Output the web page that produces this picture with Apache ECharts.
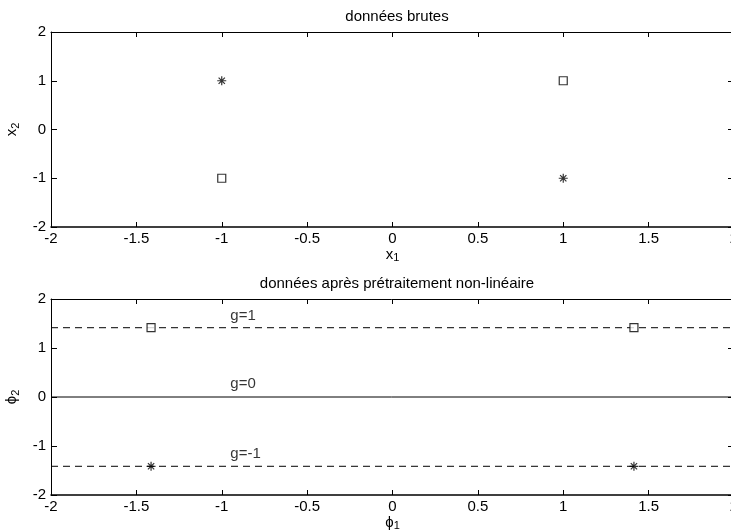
<!DOCTYPE html>
<html>
<head>
<meta charset="utf-8">
<script src="https://cdn.jsdelivr.net/npm/echarts@6/dist/echarts.min.js"></script>
<style>
  html, body { margin: 0; padding: 0; background: #fff; }
  #main { width: 731px; height: 531px; }
</style>
</head>
<body>
<div id="main"></div>
<script>
// valeurs
let axisMin = -2
let axisMax = 2
let xStep = 0.5
let yStep = 1
let r2 = 1.414

// données brutes (XOR)
let rawStars = [[-1, 1], [1, -1]]
let rawSquares = [[1, 1], [-1, -1]]

// après prétraitement
let phiSquares = [[-r2, r2], [r2, r2]]
let phiStars = [[-r2, -r2], [r2, -r2]]
let gLevels = [r2, 0, -r2]
let gDashed = [true, false, true]
let gLabels = ['g=1', 'g=0', 'g=-1']
let gLabelPos = [[-0.95, 1.65], [-0.95, 0.26], [-0.95, -1.17]]

let titles = ['données brutes', 'données après prétraitement non-linéaire']

let font = 'Liberation Sans, Arial, sans-serif'
let fs = 15
let starPath = 'path://M0,-10L0,10M-10,0L10,0M-7,-7L7,7M-7,7L7,-7'

let chart = echarts.init(document.getElementById('main'))

function mainX(gi, name) {
    return {
        type: 'value', gridIndex: gi, min: axisMin, max: axisMax, interval: xStep,
        position: 'bottom',
        axisLine: { onZero: false, lineStyle: { color: '#000', width: 1.5 } },
        axisTick: { inside: true, length: 5, lineStyle: { color: '#000' } },
        axisLabel: { color: '#000', fontSize: fs, fontFamily: font, margin: 4,
            formatter: function (v) { return String(v) } },
        splitLine: { show: false },
        name: name, nameLocation: 'middle', nameGap: 17,
        nameTextStyle: { color: '#000', fontSize: fs, fontFamily: font,
            rich: { s: { fontSize: 11, fontFamily: font, padding: [8, 0, 0, 0] } } }
    }
}
function topX(gi) {
    return {
        type: 'value', gridIndex: gi, min: axisMin, max: axisMax, interval: xStep,
        position: 'top',
        axisLine: { onZero: false, lineStyle: { color: '#000', width: 1 } },
        axisTick: { inside: true, length: 5, lineStyle: { color: '#000' } },
        axisLabel: { show: false }, splitLine: { show: false }
    }
}
function mainY(gi, name) {
    return {
        type: 'value', gridIndex: gi, min: axisMin, max: axisMax, interval: yStep,
        position: 'left',
        axisLine: { onZero: false, lineStyle: { color: '#000', width: 1 } },
        axisTick: { inside: true, length: 6, lineStyle: { color: '#000' } },
        axisLabel: { color: '#000', fontSize: fs, fontFamily: font, margin: 5 },
        splitLine: { show: false },
        name: name, nameLocation: 'middle', nameGap: 28, nameRotate: 90,
        nameTextStyle: { color: '#000', fontSize: fs, fontFamily: font,
            rich: { s: { fontSize: 11, fontFamily: font, padding: [8, 0, 0, 0] } } }
    }
}
function rightY(gi) {
    return {
        type: 'value', gridIndex: gi, min: axisMin, max: axisMax, interval: yStep,
        position: 'right',
        axisLine: { onZero: false, lineStyle: { color: '#000', width: 1 } },
        axisTick: { inside: true, length: 6, lineStyle: { color: '#000' } },
        axisLabel: { show: false }, splitLine: { show: false }
    }
}

function markers(data, xi, yi, star) {
    return {
        type: 'scatter', xAxisIndex: xi, yAxisIndex: yi, data: data,
        symbol: star ? starPath : 'rect',
        symbolSize: star ? 9 : 8,
        itemStyle: star ? { color: '#000', borderColor: '#000', borderWidth: 1.2 }
                        : { color: '#fff', borderColor: '#000', borderWidth: 1.2 },
        z: 5, silent: true
    }
}

let series = [
    markers(rawStars, 0, 0, true),
    markers(rawSquares, 0, 0, false)
]
for (let i = 0; i < gLevels.length; i++) {
    series.push({
        type: 'line', xAxisIndex: 2, yAxisIndex: 2,
        data: [[axisMin, gLevels[i]], [axisMax, gLevels[i]]],
        symbol: 'none', silent: true,
        lineStyle: { color: '#000', width: 1, type: gDashed[i] ? [7, 5] : 'solid' }
    })
    series.push({
        type: 'scatter', xAxisIndex: 2, yAxisIndex: 2,
        data: [gLabelPos[i]], symbolSize: 0, silent: true,
        label: { show: true, position: [0, 0], align: 'left', verticalAlign: 'middle',
            formatter: gLabels[i], color: '#000', fontSize: fs, fontFamily: font }
    })
}
series.push(markers(phiSquares, 2, 2, false))
series.push(markers(phiStars, 2, 2, true))

chart.setOption({
    animation: false,
    backgroundColor: '#fff',
    grid: [
        { left: 51, top: 32, width: 683, height: 195, outerBoundsMode: 'none', containLabel: false },
        { left: 51, top: 299, width: 683, height: 196, outerBoundsMode: 'none', containLabel: false }
    ],
    title: [
        { text: titles[0], left: 392, top: 4, textAlign: 'center',
          textStyle: { color: '#000', fontSize: fs, fontWeight: 'normal', fontFamily: font } },
        { text: titles[1], left: 392, top: 271, textAlign: 'center',
          textStyle: { color: '#000', fontSize: fs, fontWeight: 'normal', fontFamily: font } }
    ],
    xAxis: [mainX(0, 'x{s|1}'), topX(0), mainX(1, 'ϕ{s|1}'), topX(1)],
    yAxis: [mainY(0, 'x{s|2}'), rightY(0), mainY(1, 'ϕ{s|2}'), rightY(1)],
    series: series
})
</script>
</body>
</html>
